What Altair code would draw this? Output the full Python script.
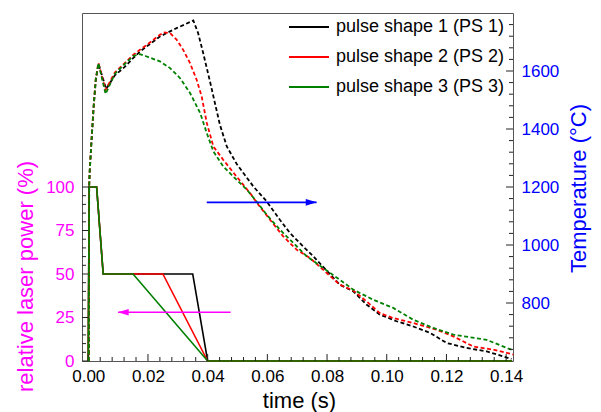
import altair as alt
import pandas as pd

FONT = "Liberation Sans"

series = ["pulse shape 1 (PS 1)", "pulse shape 2 (PS 2)", "pulse shape 3 (PS 3)"]
colors = ["#000000", "#ff0000", "#008000"]

# ---- laser pulse shapes (relative laser power, %) ----
ps1_t = [0.0, 0.0003, 0.0028, 0.0050, 0.0350, 0.0400, 0.1420]
ps1_p = [0, 100, 100, 50, 50, 0, 0]
ps2_t = [0.0, 0.0003, 0.0028, 0.0050, 0.0250, 0.0400, 0.1420]
ps2_p = [0, 100, 100, 50, 50, 0, 0]
ps3_t = [0.0, 0.0003, 0.0028, 0.0050, 0.0150, 0.0400, 0.1420]
ps3_p = [0, 100, 100, 50, 50, 0, 0]

# ---- temperatures (deg C) ----
t1 = [0.0002, 0.0003, 0.0005, 0.0011, 0.0018, 0.0025, 0.0034, 0.0060, 0.0089, 0.0123,
      0.0151, 0.0173, 0.0240, 0.0296, 0.0352, 0.0368, 0.0385, 0.0408, 0.0424, 0.0441,
      0.0464, 0.0497, 0.0553, 0.0598, 0.0642, 0.0676, 0.0720, 0.0754, 0.0843, 0.0888,
      0.0933, 0.0977, 0.1033, 0.1089, 0.1145, 0.1201, 0.1268, 0.1335, 0.1390, 0.1418]
T1 = [600, 1200, 1255, 1360, 1475, 1565, 1625, 1538, 1585, 1615,
      1645, 1667, 1719, 1748, 1774, 1731, 1662, 1563, 1491, 1415,
      1340, 1280, 1202, 1150, 1087, 1041, 995, 961, 863, 840,
      794, 760, 737, 719, 697, 662, 645, 633, 616, 607]

t2 = [0.0002, 0.0003, 0.0005, 0.0011, 0.0018, 0.0025, 0.0034, 0.0058, 0.0089, 0.0123,
      0.0151, 0.0173, 0.0196, 0.0240, 0.0255, 0.0274, 0.0296, 0.0318, 0.0341, 0.0363,
      0.0380, 0.0397, 0.0419, 0.0452, 0.0497, 0.0542, 0.0570, 0.0609, 0.0653, 0.0698,
      0.0743, 0.0843, 0.0888, 0.0933, 0.0977, 0.1022, 0.1089, 0.1167, 0.1223, 0.1290,
      0.1357, 0.1402, 0.1424]
T2 = [600, 1210, 1262, 1365, 1480, 1572, 1628, 1535, 1595, 1628,
      1656, 1673, 1690, 1725, 1733, 1731, 1708, 1673, 1627, 1570,
      1512, 1421, 1340, 1294, 1236, 1179, 1139, 1087, 1030, 984,
      955, 863, 843, 805, 765, 748, 731, 708, 685, 650,
      639, 628, 622]

t3 = [0.0002, 0.0003, 0.0005, 0.0011, 0.0018, 0.0025, 0.0034, 0.0058, 0.0089, 0.0123,
      0.0151, 0.0173, 0.0196, 0.0240, 0.0274, 0.0307, 0.0341, 0.0375, 0.0397, 0.0419,
      0.0452, 0.0486, 0.0531, 0.0564, 0.0598, 0.0642, 0.0687, 0.0732, 0.0843, 0.0888,
      0.0955, 0.1022, 0.1089, 0.1156, 0.1223, 0.1335, 0.1402, 0.1424]
T3 = [600, 1205, 1258, 1362, 1478, 1570, 1627, 1521, 1590, 1625,
      1652, 1658, 1650, 1633, 1610, 1576, 1524, 1455, 1386, 1323,
      1271, 1236, 1191, 1150, 1104, 1053, 1007, 961, 880, 846,
      811, 783, 742, 714, 691, 673, 645, 637]

# ---- arrows ----
mag_t = [0.0100, 0.0477]
mag_p = [28, 28]
mag_head_t = [0.0117]
mag_head_p = [28]
blue_t = [0.0397, 0.0765]
blue_T = [1147, 1147]
blue_head_t = [0.0747]
blue_head_T = [1147]

# ---- ticks ----
x_major = [0.0, 0.02, 0.04, 0.06, 0.08, 0.10, 0.12, 0.14]
x_minor = [round(0.004 * i, 3) for i in range(36) if i % 5 != 0]
p_major = [0, 25, 50, 75, 100]
p_minor = [v for v in range(5, 101, 5) if v % 25 != 0]
T_major = [800, 1000, 1200, 1400, 1600]
T_minor = [v for v in range(640, 1800, 40) if v % 200 != 0]

# ---- tables ----
power_rows = []
for name, ts, ps in zip(series, [ps1_t, ps2_t, ps3_t], [ps1_p, ps2_p, ps3_p]):
    for i, (t, p) in enumerate(zip(ts, ps)):
        power_rows.append({"series": name, "t": t, "p": p, "i": i})
power_df = pd.DataFrame(power_rows)

temp_rows = []
for name, ts, Ts in zip(series, [t1, t2, t3], [T1, T2, T3]):
    for i, (t, T) in enumerate(zip(ts, Ts)):
        temp_rows.append({"series": name, "t": t, "T": T, "i": i})
temp_df = pd.DataFrame(temp_rows)

x_scale = alt.Scale(domain=[-0.0021, 0.1423], nice=False, zero=False)
p_scale = alt.Scale(domain=[0, 200], nice=False)
T_scale = alt.Scale(domain=[600, 1800], nice=False, zero=False)

W, H = 431, 348
TICK = "#222222"

color = alt.Color(
    "series:N",
    scale=alt.Scale(domain=series, range=colors),
    legend=alt.Legend(
        orient="none", legendX=206, legendY=-7, title=None,
        symbolType="stroke", symbolSize=1600, symbolStrokeWidth=2,
        labelFontSize=18, labelFont=FONT, labelColor="#000000",
        labelLimit=400, labelOffset=6, rowPadding=-18, padding=0,
    ),
)

x_axis = alt.Axis(
    values=x_major, format=".2f", ticks=False,
    labelPadding=7, labelFontSize=17, labelFont=FONT, labelColor="#000000",
    labelOverlap=False, labelFlush=False,
    title="time (s)", titleFont=FONT, titleFontSize=22, titleFontWeight="normal",
    titleColor="#000000", titleX=217, titleY=46, titleAlign="center", titleBaseline="alphabetic",
    domain=False, grid=False,
)

p_axis = alt.Axis(
    orient="left", values=p_major, format="d", ticks=False,
    labelPadding=8, labelFontSize=17, labelFont=FONT, labelColor="#ff00ff",
    labelOverlap=False, labelFlush=False,
    title="relative laser power (%)", titleFont=FONT, titleFontSize=22, titleFontWeight="normal",
    titleColor="#ff00ff", titleX=-57, titleY=263, titleAngle=270, titleAlign="center",
    titleBaseline="middle",
    domain=False, grid=False,
)

T_axis = alt.Axis(
    orient="right", values=T_major, format="d", ticks=False,
    labelPadding=8, labelFontSize=17, labelFont=FONT, labelColor="#0000ff",
    labelOverlap=False, labelFlush=False,
    title="Temperature (°C)", titleFont=FONT, titleFontSize=22, titleFontWeight="normal",
    titleColor="#0000ff", titleX=65, titleY=175, titleAngle=270, titleAlign="center",
    titleBaseline="middle",
    domain=False, grid=False,
)

X = lambda: alt.X("t:Q", scale=x_scale, axis=x_axis)
YP = lambda: alt.Y("p:Q", scale=p_scale, axis=p_axis)
YT = lambda: alt.Y("T:Q", scale=T_scale, axis=T_axis)


# tick marks (drawn inward, through the chart's own scales)
def xticks(values, length):
    return alt.Chart(pd.DataFrame({"t": values})).mark_rule(color=TICK, strokeWidth=1).encode(
        x=X(), y=alt.value(H), y2=alt.value(H - length),
    )


def pticks(values, length):
    return alt.Chart(pd.DataFrame({"p": values})).mark_rule(color=TICK, strokeWidth=1).encode(
        y=YP(), x=alt.value(0), x2=alt.value(length),
    )


def Tticks(values, length):
    return alt.Chart(pd.DataFrame({"T": values})).mark_rule(color=TICK, strokeWidth=1).encode(
        y=YT(), x=alt.value(W), x2=alt.value(W - length),
    )


power = alt.Chart(power_df).mark_line(strokeWidth=1.6).encode(
    x=X(), y=YP(), color=color, order="i:Q",
)
mag_line = alt.Chart(pd.DataFrame({"t": mag_t, "p": mag_p})).mark_line(
    color="#ff00ff", strokeWidth=1.6
).encode(x=X(), y=YP())
mag_head = alt.Chart(pd.DataFrame({"t": mag_head_t, "p": mag_head_p})).mark_point(
    shape="M -1 0 L 1 -0.6 L 1 0.6 Z", size=121, filled=True, opacity=1,
    color="#ff00ff", strokeWidth=0,
).encode(x=X(), y=YP())

temp = alt.Chart(temp_df).mark_line(strokeWidth=1.8, strokeDash=[4, 2.5]).encode(
    x=X(), y=YT(), color=color, order="i:Q",
)
blue_line = alt.Chart(pd.DataFrame({"t": blue_t, "T": blue_T})).mark_line(
    color="#0000ff", strokeWidth=1.6
).encode(x=X(), y=YT())
blue_head = alt.Chart(pd.DataFrame({"t": blue_head_t, "T": blue_head_T})).mark_point(
    shape="M 1 0 L -1 -0.6 L -1 0.6 Z", size=121, filled=True, opacity=1,
    color="#0000ff", strokeWidth=0,
).encode(x=X(), y=YT())

left = alt.layer(power, mag_line, mag_head, pticks(p_major, 7), pticks(p_minor, 4),
                 xticks(x_major, 7), xticks(x_minor, 4))
right = alt.layer(temp, blue_line, blue_head, Tticks(T_major, 7), Tticks(T_minor, 4))

chart = (
    alt.layer(left, right)
    .resolve_scale(y="independent")
    .properties(
        width=W, height=H,
        autosize=alt.AutoSizeParams(type="none"),
        padding={"left": 74, "top": 5, "right": 80, "bottom": 51},
        background="white",
    )
    .configure_view(stroke="#555555", strokeWidth=1)
)

chart.save("out.html", embed_options={"renderer": "svg", "actions": False})
